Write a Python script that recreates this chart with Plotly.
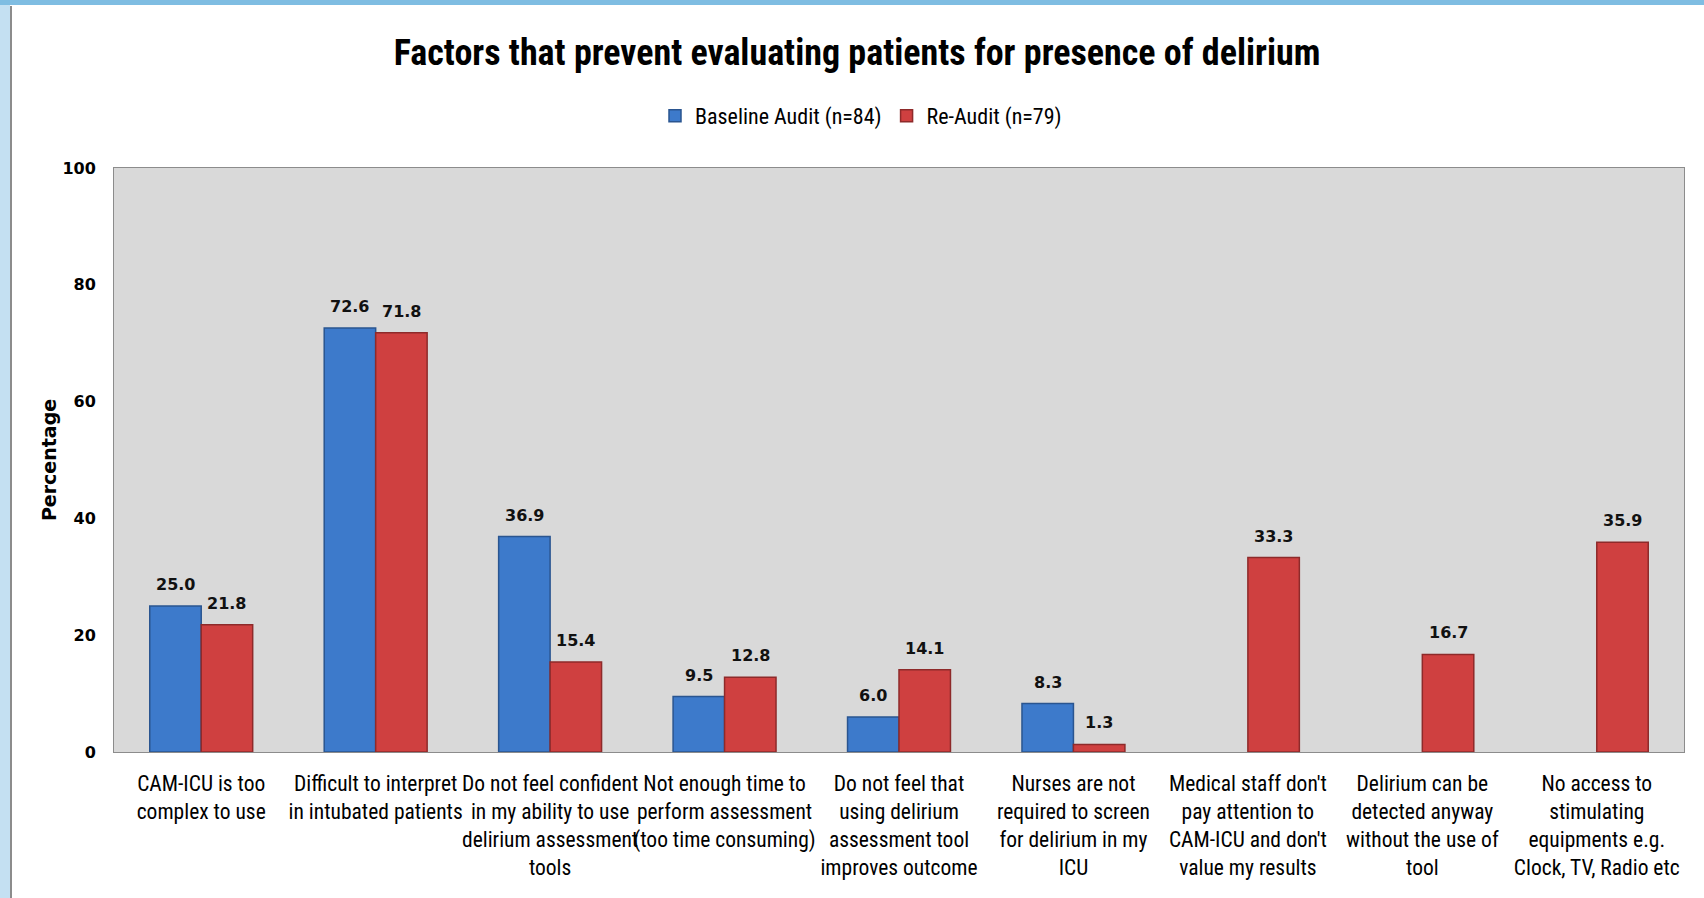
import plotly.graph_objects as go

categories = [
    "CAM-ICU is too<br>complex to use",
    "Difficult to interpret<br>in intubated patients",
    "Do not feel confident<br>in my ability to use<br>delirium assessment<br>tools",
    "Not enough time to<br>perform assessment<br>(too time consuming)",
    "Do not feel that<br>using delirium<br>assessment tool<br>improves outcome",
    "Nurses are not<br>required to screen<br>for delirium in my<br>ICU",
    "Medical staff don't<br>pay attention to<br>CAM-ICU and don't<br>value my results",
    "Delirium can be<br>detected anyway<br>without the use of<br>tool",
    "No access to<br>stimulating<br>equipments e.g.<br>Clock, TV, Radio etc",
]
baseline = [25.0, 72.6, 36.9, 9.5, 6.0, 8.3, None, None, None]
reaudit = [21.8, 71.8, 15.4, 12.8, 14.1, 1.3, 33.3, 16.7, 35.9]
series_names = ["Baseline Audit (n=84)", "Re-Audit (n=79)"]
y_ticks = [0, 20, 40, 60, 80, 100]

cond = "Liberation Sans Narrow, Roboto Condensed, Arial Narrow, sans-serif"

W, H = 1704, 898
ML, MR, MT, MB = 114, 20, 168, 146
PH = H - MT - MB
PW = W - ML - MR
BARGAP = 0.41

fig = go.Figure()
fig.add_trace(go.Bar(
    x=categories, y=baseline, name=series_names[0],
    marker=dict(color="#3d7acb", line=dict(color="#2a5590", width=1.5)),
))
fig.add_trace(go.Bar(
    x=categories, y=reaudit, name=series_names[1],
    marker=dict(color="#cf4040", line=dict(color="#8e2a2a", width=1.5)),
))

# value labels above bars (placed at the data values, shifted to each bar of the group)
half_bar_px = (1 - BARGAP) * PW / len(categories) / 4
for vals, sign in ((baseline, -1), (reaudit, 1)):
    for cat, v in zip(categories, vals):
        if v is None:
            continue
        fig.add_annotation(
            x=cat, y=v, text=f"{v:.1f}", showarrow=False,
            xshift=sign * half_bar_px, yshift=10, yanchor="bottom",
            font=dict(family="DejaVu Sans", size=16, color="#111", weight="bold"),
        )

fig.update_layout(
    width=W, height=H,
    paper_bgcolor="white",
    plot_bgcolor="#d9d9d9",
    barmode="group", bargap=BARGAP, bargroupgap=0.0,
    margin=dict(l=ML, r=MR, t=MT, b=MB, autoexpand=False),
    title=dict(text="<b>Factors that prevent evaluating patients for presence of delirium</b>",
               x=0.503, xanchor="center", y=1 - 52 / H, yanchor="middle",
               font=dict(family=cond, size=36, color="black")),
    legend=dict(orientation="h", x=(861 - ML) / PW, xanchor="center",
                y=1 + (MT - 116) / PH, yanchor="middle",
                font=dict(family=cond, size=22, color="black"), bgcolor="rgba(0,0,0,0)",
                itemwidth=30, traceorder="normal"),
    showlegend=True,
)
fig.update_xaxes(
    showline=True, linecolor="#8c8c8c", linewidth=1, mirror=True,
    tickfont=dict(family=cond, size=21.5, color="black"), ticks="", tickangle=0,
    ticklabelstandoff=12,
    showgrid=False, automargin=False,
)
fig.update_yaxes(
    range=[0, 100], tickvals=y_ticks, showgrid=False, zeroline=False,
    showline=True, linecolor="#8c8c8c", linewidth=1, mirror=True,
    tickfont=dict(family="DejaVu Sans", size=16, color="black", weight="bold"), ticks="",
    ticklabelstandoff=14, automargin=False,
    title=dict(text="<b>Percentage</b>", font=dict(family="DejaVu Sans", size=19, color="black"), standoff=0),
)

# decorative light-blue frame
fig.add_shape(type="rect", xref="paper", yref="paper", x0=-ML / PW, x1=-(ML - 10) / PW, y0=-MB / PH, y1=1 + MT / PH,
              fillcolor="#c4e0f2", line=dict(width=0), layer="below")
fig.add_shape(type="line", xref="paper", yref="paper", x0=-(ML - 11) / PW, x1=-(ML - 11) / PW, y0=-MB / PH, y1=1 + (MT - 6) / PH,
              line=dict(color="#8c8c8c", width=2), layer="below")
fig.add_shape(type="rect", xref="paper", yref="paper", x0=-ML / PW, x1=1 + MR / PW, y0=1 + (MT - 5) / PH, y1=1 + MT / PH,
              fillcolor="#7fbde2", line=dict(width=0), layer="below")

fig.write_html("out.html", config={"displayModeBar": False},
               post_script="document.body.style.margin='0';document.body.style.overflow='hidden';")
